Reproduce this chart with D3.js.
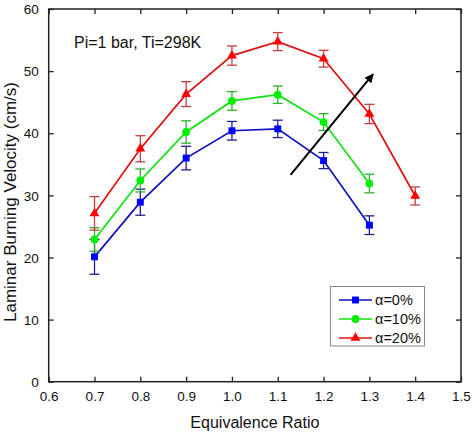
<!DOCTYPE html>
<html><head><meta charset="utf-8">
<script src="https://cdn.jsdelivr.net/npm/d3@7"></script>
<style>body{margin:0;background:#fff}svg{display:block}text{font-family:Arial,"Liberation Sans",sans-serif}</style>
</head><body><svg id="c" width="474" height="435"></svg>
<script>
const phi0 = [0.7,0.8,0.9,1.0,1.1,1.2,1.3];
const v0 = [20.1,28.9,36.0,40.4,40.7,35.6,25.2];
const e0 = [2.8,2.1,1.9,1.5,1.4,1.3,1.5];
const phi10 = [0.7,0.8,0.9,1.0,1.1,1.2,1.3];
const v10 = [22.9,32.4,40.2,45.2,46.2,41.8,31.9];
const e10 = [1.9,1.85,1.8,1.5,1.4,1.35,1.5];
const phi20 = [0.7,0.8,0.9,1.0,1.1,1.2,1.3,1.4];
const v20 = [27.1,37.5,46.3,52.5,54.75,52.0,43.1,29.9];
const e20 = [2.7,2.1,2.0,1.55,1.45,1.35,1.55,1.45];
const seriesNames = ["\u03b1=0%","\u03b1=10%","\u03b1=20%"];
const xTicks = [0.6,0.7,0.8,0.9,1.0,1.1,1.2,1.3,1.4,1.5];
const yTicks = [0,10,20,30,40,50,60];
const arrowX = [1.128,1.308];
const arrowY = [33.3,49.5];

const svg = d3.select("#c");
const L=48.7,R=461,T=9,B=381.7;
const x = d3.scaleLinear().domain([0.6,1.5]).range([L,R]);
const y = d3.scaleLinear().domain([0,60]).range([B,T]);

const series = [
 {name:seriesNames[0],xs:phi0,vs:v0,es:e0,line:"#1010c0",mark:"#0000ff",err:"#202090",shape:d3.symbolSquare,size:48},
 {name:seriesNames[1],xs:phi10,vs:v10,es:e10,line:"#10e010",mark:"#00ee00",err:"#30b030",shape:d3.symbolCircle,size:48},
 {name:seriesNames[2],xs:phi20,vs:v20,es:e20,line:"#dd1010",mark:"#ff0000",err:"#c04040",shape:d3.symbolTriangle,size:42}
];

// axes
const fmtX = d3.format(".1f");
const gB = svg.append("g").attr("transform",`translate(0,${B})`).call(d3.axisBottom(x).tickValues(xTicks).tickFormat(fmtX).tickSizeInner(-5).tickSizeOuter(0).tickPadding(10));
const gT = svg.append("g").attr("transform",`translate(0,${T})`).call(d3.axisTop(x).tickValues(xTicks).tickFormat("").tickSizeInner(-5).tickSizeOuter(0));
const gL = svg.append("g").attr("transform",`translate(${L},0)`).call(d3.axisLeft(y).tickValues(yTicks).tickSizeInner(-5).tickSizeOuter(0).tickPadding(10));
const gR = svg.append("g").attr("transform",`translate(${R},0)`).call(d3.axisRight(y).tickValues(yTicks).tickFormat("").tickSizeInner(-5).tickSizeOuter(0));
[gB,gT,gL,gR].forEach(g=>{g.select(".domain").remove();g.selectAll(".tick line").attr("stroke","#222").attr("stroke-width",1.3);g.selectAll("text").attr("font-size",13.5).attr("fill","#111").attr("font-family","Arial, 'Liberation Sans', sans-serif");});
gL.selectAll("text").attr("dy","0.35em");
svg.append("rect").attr("x",L).attr("y",T).attr("width",R-L).attr("height",B-T).attr("fill","none").attr("stroke","#222").attr("stroke-width",1.5);

// data
series.forEach(s=>{
  const pts = s.xs.map((d,i)=>({x:d,v:s.vs[i],e:s.es[i]}));
  const g = svg.append("g");
  g.append("path").datum(pts).attr("fill","none").attr("stroke",s.line).attr("stroke-width",1.7)
    .attr("d",d3.line().x(d=>x(d.x)).y(d=>y(d.v)));
  pts.forEach(d=>{
    const cx=x(d.x), y1=y(d.v+d.e), y2=y(d.v-d.e);
    g.append("line").attr("x1",cx).attr("x2",cx).attr("y1",y1).attr("y2",y2).attr("stroke",s.err).attr("stroke-width",1.3);
    g.append("line").attr("x1",cx-5).attr("x2",cx+5).attr("y1",y1).attr("y2",y1).attr("stroke",s.err).attr("stroke-width",1.3);
    g.append("line").attr("x1",cx-5).attr("x2",cx+5).attr("y1",y2).attr("y2",y2).attr("stroke",s.err).attr("stroke-width",1.3);
  });
  g.selectAll(".m").data(pts).enter().append("path")
    .attr("transform",d=>`translate(${x(d.x)},${y(d.v)})`)
    .attr("d",d3.symbol().type(s.shape).size(s.size)).attr("fill",s.mark);
});

// arrow
svg.append("defs").append("marker").attr("id","ah").attr("viewBox","0 0 10 10").attr("refX",9).attr("refY",5)
  .attr("markerWidth",9).attr("markerHeight",9).attr("markerUnits","userSpaceOnUse").attr("orient","auto")
  .append("path").attr("d","M0,0 L10,5 L0,10 z").attr("fill","#000");
svg.append("line").attr("x1",x(arrowX[0])).attr("y1",y(arrowY[0])).attr("x2",x(arrowX[1])).attr("y2",y(arrowY[1]))
  .attr("stroke","#000").attr("stroke-width",2).attr("marker-end","url(#ah)");

// annotation
svg.append("text").attr("x",74).attr("y",48).attr("font-size",16).attr("fill","#111").text("Pi=1 bar, Ti=298K");

// axis labels
svg.append("text").attr("x",(L+R)/2).attr("y",428).attr("text-anchor","middle").attr("font-size",16).attr("fill","#111").text("Equivalence Ratio");
svg.append("text").attr("transform",`translate(10,202) rotate(-90)`).attr("text-anchor","middle").attr("dy","0.35em").attr("font-size",17).attr("fill","#111").text("Laminar Burning Velocity (cm/s)");

// legend
const lg = svg.append("g");
lg.append("rect").attr("x",330.5).attr("y",286.5).attr("width",94).attr("height",59.5).attr("fill","#fff").attr("stroke","#888").attr("stroke-width",1);
series.forEach((s,i)=>{
  const yy = 300+i*19;
  lg.append("line").attr("x1",339).attr("x2",372).attr("y1",yy).attr("y2",yy).attr("stroke",s.line).attr("stroke-width",1.7);
  lg.append("path").attr("transform",`translate(355.5,${yy})`).attr("d",d3.symbol().type(s.shape).size(s.size)).attr("fill",s.mark);
  lg.append("text").attr("x",375).attr("y",yy).attr("dy","0.35em").attr("font-size",14.5).attr("fill","#111").text(s.name);
});
</script></body></html>
